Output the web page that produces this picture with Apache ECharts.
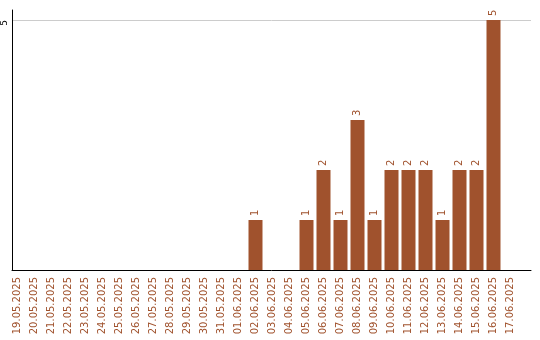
<!DOCTYPE html>
<html><head><meta charset="utf-8">
<script src="https://cdn.jsdelivr.net/npm/echarts@6/dist/echarts.min.js"></script>
<style>html,body{margin:0;padding:0;background:#fff}#c{width:540px;height:340px}</style>
</head><body><div id="c"></div>
<script>
var categories = ['19.05.2025','20.05.2025','21.05.2025','22.05.2025','23.05.2025','24.05.2025','25.05.2025','26.05.2025','27.05.2025','28.05.2025','29.05.2025','30.05.2025','31.05.2025','01.06.2025','02.06.2025','03.06.2025','04.06.2025','05.06.2025','06.06.2025','07.06.2025','08.06.2025','09.06.2025','10.06.2025','11.06.2025','12.06.2025','13.06.2025','14.06.2025','15.06.2025','16.06.2025','17.06.2025'];
var values = [0,0,0,0,0,0,0,0,0,0,0,0,0,0,1,0,0,1,2,1,3,1,2,2,2,1,2,2,5,0];
var yTickLabels = [5];

var brown = '#a0522d';
var chart = echarts.init(document.getElementById('c'), null, {renderer: 'canvas'});
chart.setOption({
  animation: false,
  backgroundColor: '#fff',
  grid: [
    {left: 9, width: 510, top: 10, height: 260},
    {left: 10, width: 521, top: 10, height: 260}
  ],
  xAxis: [
    {type: 'category', gridIndex: 0, data: categories,
     axisLine: {show: false}, axisTick: {show: false},
     axisLabel: {interval: 0, rotate: 90, margin: 7, color: brown, fontSize: 10, fontFamily: 'DejaVu Sans'}},
    {type: 'value', gridIndex: 1, min: 0, max: 1,
     axisLine: {show: true, lineStyle: {color: '#000', width: 1}},
     axisTick: {show: false}, axisLabel: {show: false}, splitLine: {show: false}}
  ],
  yAxis: [
    {type: 'value', gridIndex: 0, min: 0, max: 5.2, show: false, splitLine: {show: false}},
    {type: 'value', gridIndex: 1, min: 0, max: 5.2, interval: 5,
     axisLine: {show: true, lineStyle: {color: '#000', width: 1}},
     axisTick: {show: false},
     splitLine: {show: true, showMinLine: false, showMaxLine: false, lineStyle: {color: '#cccccc', width: 1}},
     axisLabel: {margin: 3, rotate: 90, align: 'right', verticalAlign: 'bottom', color: '#000', fontSize: 9, fontFamily: 'DejaVu Sans',
       formatter: function (v) { return yTickLabels.indexOf(v) >= 0 ? String(v) : ''; }}}
  ],
  series: [{
    type: 'bar', xAxisIndex: 0, yAxisIndex: 0, data: values, barWidth: 14,
    itemStyle: {color: brown},
    label: {show: true, position: 'top', rotate: 90, align: 'left', verticalAlign: 'middle', distance: 4,
      color: brown, fontSize: 10, fontFamily: 'DejaVu Sans',
      formatter: function (p) { return p.value > 0 ? String(p.value) : ''; }}
  }]
});
</script></body></html>
